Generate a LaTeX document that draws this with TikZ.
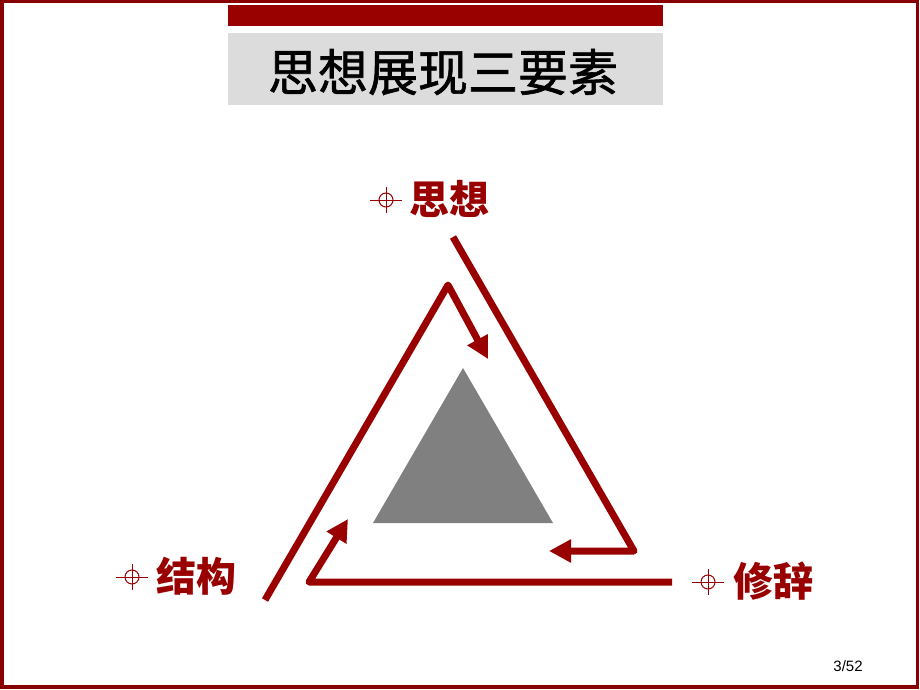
\documentclass[tikz,border=0pt]{standalone}
\usepackage{fontspec}
\newfontfamily\cjk{Noto Sans CJK SC}
\newfontfamily\cjktitle[FakeBold=1.2]{Noto Sans CJK SC}
\setmainfont{Liberation Sans}
\usetikzlibrary{arrows.meta,calc}
\definecolor{dred}{HTML}{990000}
\definecolor{frred}{HTML}{880000}
\definecolor{tgray}{HTML}{DCDCDC}
\definecolor{mgray}{HTML}{808080}
\tikzset{
  lbl/.style={inner sep=0pt, text=dred, font=\cjk\bfseries\fontsize{40}{40}\selectfont},
  flow/.style={draw=dred, line width=7pt, line join=round, -{Triangle[length=22pt,width=22pt]}},
  xhair/.style={draw=dred, line width=1pt}
}
\newcommand{\mycross}[1]{%
  \draw[xhair] (#1) circle[radius=7];
  \draw[xhair] ($(#1)+(-16,0)$) -- ($(#1)+(16,0)$);
  \draw[xhair] ($(#1)+(0,-13)$) -- ($(#1)+(0,13)$);
}
\begin{document}
\begin{tikzpicture}[x=1pt,y=-1pt]
\useasboundingbox (0,0) rectangle (920,690);
\fill[white] (0,0) rectangle (920,690);
% frame
\draw[frred, line width=3.5pt] (2,1.5) rectangle (917.5,687);
% title
\fill[dred] (228,5) rectangle (663,26);
\fill[tgray] (228,33) rectangle (663,105);
\node[inner sep=0pt, font=\cjktitle\fontsize{50}{50}\selectfont] (title) at (443,72) {思想展现三要素};
% central triangle
\fill[mgray] (463,368) -- (373,523) -- (553,523) -- cycle;
% labels
\node[lbl] (sx) at (449,199) {思想};
\node[lbl] (jg) at (196,576) {结构};
\node[lbl] (xc) at (773,581) {修辞};
\coordinate (c1) at (386,200);
\coordinate (c2) at (132,577);
\coordinate (c3) at (708,582);
\mycross{c1}
\mycross{c2}
\mycross{c3}
% flows
\coordinate (a1) at (453,237);
\coordinate (a2) at (634,551);
\coordinate (a3) at (549,551);
\draw[flow] (a1) -- (a2) -- (a3);
\coordinate (b1) at (265,600);
\coordinate (b2) at (448,285);
\coordinate (b3) at (488,359);
\draw[flow] (b1) -- (b2) -- (b3);
\coordinate (d1) at (672,582);
\coordinate (d2) at (309,582);
\coordinate (d3) at (348,519);
\draw[flow] (d1) -- (d2) -- (d3);
% page number
\node[inner sep=0pt, font=\fontsize{15}{15}\selectfont] (pg) at (848,666) {3/52};
\end{tikzpicture}
\end{document}
